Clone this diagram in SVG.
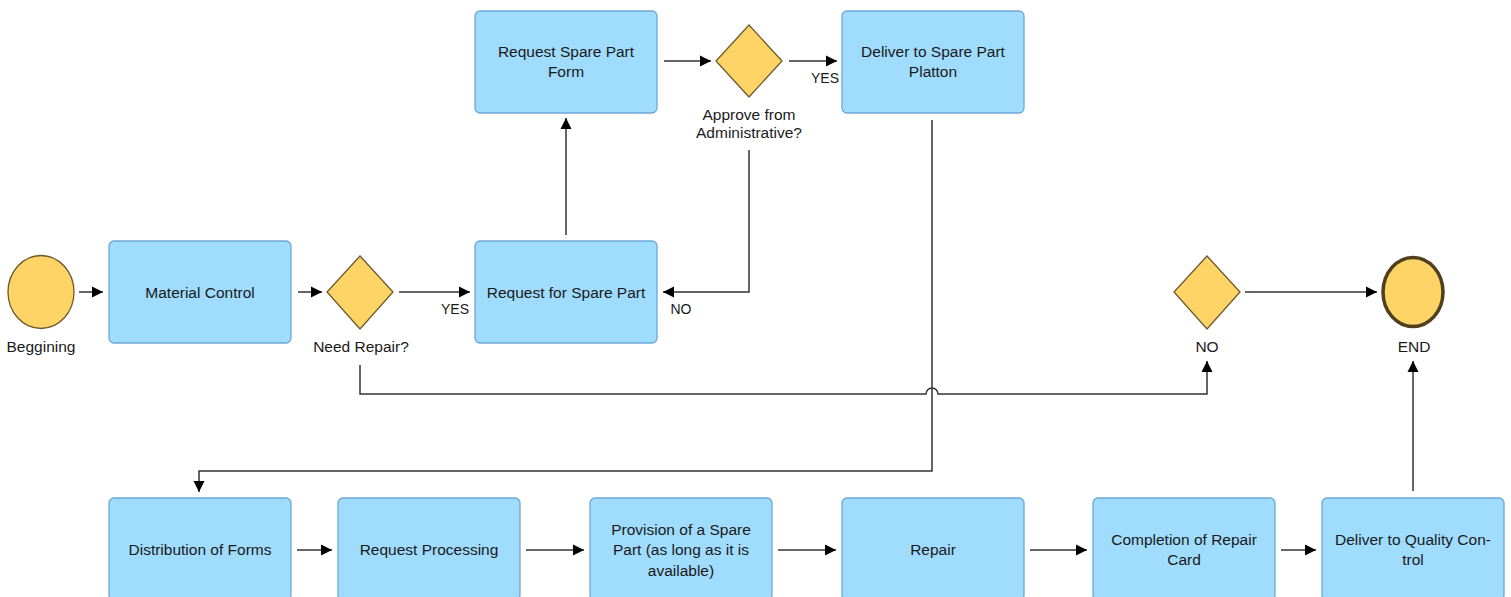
<svg xmlns="http://www.w3.org/2000/svg" width="1511" height="597" viewBox="0 0 1511 597">
<defs>
<marker id="arr" markerUnits="userSpaceOnUse" markerWidth="12" markerHeight="12" refX="11" refY="6" orient="auto">
<path d="M0,0.5 L11,6 L0,11.5 z" fill="#000"/>
</marker>
<style>
.box{fill:#9fdcfd;stroke:#6fa6d8;stroke-width:1.3}
.dia{fill:#ffd466;stroke:#6b5a2c;stroke-width:1.3}
.t{font-family:"Liberation Sans",Arial,sans-serif;font-size:15.5px;fill:#1a1a1a;text-anchor:middle}
.s{font-family:"Liberation Sans",Arial,sans-serif;font-size:14px;fill:#1a1a1a;text-anchor:middle}
.c{fill:none;stroke:#333;stroke-width:1.5}
.a{marker-end:url(#arr)}
</style>
</defs>
<rect width="1511" height="597" fill="#fff"/>
<g id="connectors">
<path class="c a" d="M79,292 H103"/>
<path class="c a" d="M298,292 H322"/>
<path class="c a" d="M399,292 H470"/>
<text class="s" x="455" y="314">YES</text>
<path class="c a" d="M566,235 V118"/>
<path class="c a" d="M664,61 H711"/>
<path class="c a" d="M789,61 H837"/>
<text class="s" x="825" y="83">YES</text>
<path class="c a" d="M749,150 V292 H663"/>
<text class="s" x="681" y="314">NO</text>
<path class="c a" d="M932,120 V471 H199 V492"/>
<path class="c a" d="M360,365 V394 H926 A6,6 0 0 1 938,394 H1207 V361"/>
<path class="c a" d="M1245,292 H1377"/>
<path class="c a" d="M1413,491 V361"/>
</g>
<g id="beggining">
<ellipse cx="41" cy="292" rx="33" ry="36.5" class="dia"/>
<text class="t" x="41" y="352">Beggining</text>
</g>
<g id="material-control">
<rect x="109" y="241" width="182" height="102" rx="5" class="box"/>
<text class="t" x="200" y="298">Material Control</text>
</g>
<g id="need-repair">
<path d="M360,256 L393,292 L360,329 L327,292 z" class="dia"/>
<text class="t" x="361" y="352">Need Repair?</text>
</g>
<g id="request-for-spare-part">
<rect x="475" y="241" width="182" height="102" rx="5" class="box"/>
<text class="t" x="566" y="298">Request for Spare Part</text>
</g>
<g id="request-spare-part-form">
<rect x="475" y="11" width="182" height="102" rx="5" class="box"/>
<text class="t" x="566" y="57">Request Spare Part</text>
<text class="t" x="566" y="77">Form</text>
</g>
<g id="approve">
<path d="M749,25 L782,61 L749,97 L716,61 z" class="dia"/>
<text class="t" x="749" y="120">Approve from</text>
<text class="t" x="749" y="138">Administrative?</text>
</g>
<g id="deliver-spare-part">
<rect x="842" y="11" width="182" height="102" rx="5" class="box"/>
<text class="t" x="933" y="57">Deliver to Spare Part</text>
<text class="t" x="933" y="77">Platton</text>
</g>
<g id="no-gateway">
<path d="M1207,256 L1240,292 L1207,329 L1174,292 z" class="dia"/>
<text class="t" x="1207" y="352">NO</text>
</g>
<g id="end">
<ellipse cx="1413" cy="292" rx="30" ry="34.5" fill="#ffd466" stroke="#4f3f1c" stroke-width="3.5"/>
<text class="t" x="1414" y="352">END</text>
</g>
<g id="distribution-of-forms">
<rect x="109" y="498" width="182" height="102" rx="5" class="box"/>
<text class="t" x="200" y="555">Distribution of Forms</text>
</g>
<g id="request-processing">
<rect x="338" y="498" width="182" height="102" rx="5" class="box"/>
<text class="t" x="429" y="555">Request Processing</text>
</g>
<g id="provision">
<rect x="590" y="498" width="182" height="102" rx="5" class="box"/>
<text class="t" x="681" y="535">Provision of a Spare</text>
<text class="t" x="681" y="555">Part (as long as it is</text>
<text class="t" x="681" y="576">available)</text>
</g>
<g id="repair">
<rect x="842" y="498" width="182" height="102" rx="5" class="box"/>
<text class="t" x="933" y="555">Repair</text>
</g>
<g id="completion">
<rect x="1093" y="498" width="182" height="102" rx="5" class="box"/>
<text class="t" x="1184" y="545">Completion of Repair</text>
<text class="t" x="1184" y="565">Card</text>
</g>
<g id="deliver-qc">
<rect x="1322" y="498" width="182" height="102" rx="5" class="box"/>
<text class="t" x="1413" y="545">Deliver to Quality Con-</text>
<text class="t" x="1413" y="565">trol</text>
</g>
<g id="bottom-connectors">
<path class="c a" d="M297,550 H332"/>
<path class="c a" d="M526,550 H584"/>
<path class="c a" d="M778,550 H836"/>
<path class="c a" d="M1030,550 H1087"/>
<path class="c a" d="M1281,550 H1316"/>
</g>
</svg>
